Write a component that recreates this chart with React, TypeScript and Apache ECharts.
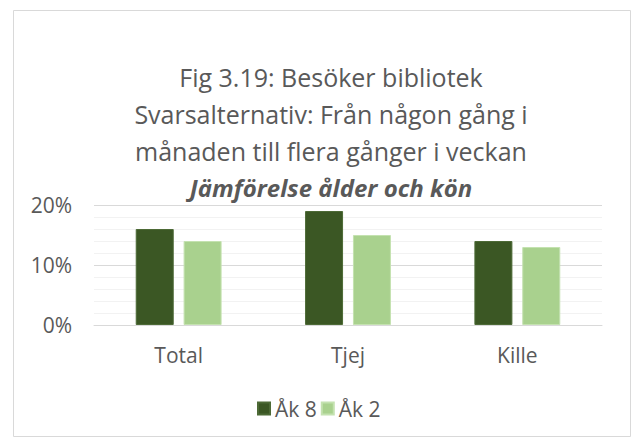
import React, { useEffect, useRef } from "react";
import * as echarts from "echarts";

const categories = ["Total", "Tjej", "Kille"];
const seriesNames = ["Åk 8", "Åk 2"];
const ak8Values = [16, 19, 14];
const ak2Values = [14, 15, 13];
const titleLines = [
  "Fig 3.19: Besöker bibliotek",
  "Svarsalternativ: Från någon gång i",
  "månaden till flera gånger i veckan",
];
const subtitleLine = "Jämförelse ålder och kön";

const FONT = "'Open Sans', 'Noto Sans', sans-serif";
const TEXT = "#595959";

export default function App() {
  const ref = useRef<HTMLDivElement>(null);
  useEffect(() => {
    if (!ref.current) return;
    const chart = echarts.init(ref.current, undefined, { renderer: "svg" });
    chart.setOption({
      animation: false,
      backgroundColor: "#ffffff",
      textStyle: { fontFamily: FONT },
      title: {
        text:
          titleLines.map((l) => `{a|${l}}`).join("\n") + `\n{b|${subtitleLine}}`,
        left: 331,
        top: 58,
        textAlign: "center",
        padding: 0,
        textStyle: {
          fontWeight: "normal",
          rich: {
            a: {
              fontFamily: FONT,
              fontSize: 25,
              color: TEXT,
              lineHeight: 37,
              fontWeight: "normal",
            },
            b: {
              fontFamily: FONT,
              fontSize: 24,
              color: TEXT,
              lineHeight: 37,
              fontWeight: "bold",
              fontStyle: "italic",
            },
          },
        },
      },
      graphic: [
        {
          type: "rect",
          shape: { x: 13.5, y: 10.5, width: 617, height: 426 },
          style: { fill: "none", stroke: "#d9d9d9", lineWidth: 1 },
          silent: true,
        },
      ],
      legend: {
        data: seriesNames,
        left: 257,
        top: 398,
        itemWidth: 12,
        itemHeight: 12,
        itemGap: 4,
        icon: "rect",
        padding: 0,
        textStyle: { fontFamily: FONT, fontSize: 21, color: TEXT },
      },
      grid: { left: 94, right: 33, top: 205, bottom: 118, containLabel: false },
      xAxis: {
        type: "category",
        data: categories,
        axisLine: { lineStyle: { color: "#d9d9d9", width: 1 } },
        axisTick: { show: false },
        axisLabel: { color: TEXT, fontFamily: FONT, fontSize: 21, margin: 19 },
      },
      yAxis: {
        type: "value",
        min: 0,
        max: 20,
        interval: 10,
        axisLine: { show: false },
        axisTick: { show: false },
        axisLabel: {
          color: TEXT,
          fontFamily: FONT,
          fontSize: 21,
          margin: 22,
          formatter: "{value}%",
        },
        splitLine: { lineStyle: { color: "#d9d9d9", width: 1 } },
        minorTick: { show: false, splitNumber: 5 },
        minorSplitLine: { show: true, lineStyle: { color: "#f2f2f2", width: 1 } },
      },
      series: [
        {
          name: seriesNames[0],
          type: "bar",
          data: ak8Values,
          barWidth: 38,
          barGap: "26%",
          itemStyle: { color: "#3b5724", borderColor: "#4d6a36", borderWidth: 1 },
        },
        {
          name: seriesNames[1],
          type: "bar",
          data: ak2Values,
          barWidth: 38,
          itemStyle: { color: "#a9d18e", borderColor: "#c4e2b0", borderWidth: 1 },
        },
      ],
    });
    return () => chart.dispose();
  }, []);
  return (
    <div
      ref={ref}
      style={{ position: "absolute", left: 0, top: 0, width: 635, height: 443 }}
    />
  );
}
